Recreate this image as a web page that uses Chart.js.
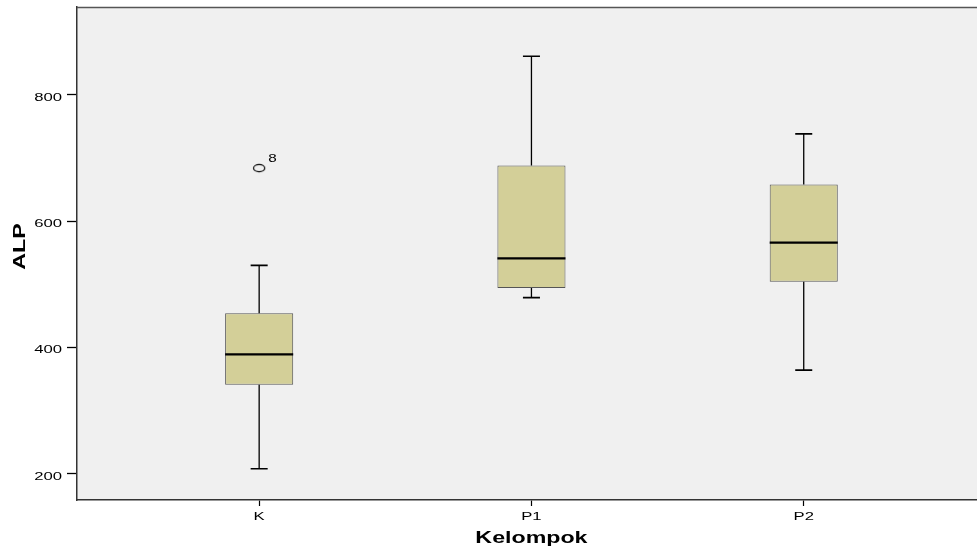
<!DOCTYPE html>
<html>
<head>
<meta charset="utf-8">
<script src="https://cdn.jsdelivr.net/npm/chart.js@4/dist/chart.umd.min.js"></script>
<style>
    html, body { margin: 0; padding: 0; background: #fff; overflow: hidden; }
    #wrap { width: 985px; height: 550px; position: relative; }
</style>
</head>
<body>
<div id="wrap"><canvas id="boxChart"></canvas></div>
<script>
// --- Data ---
const groups = ['K', 'P1', 'P2'];
const whiskerLow = [208, 479, 364];
const quartile1 = [341, 494, 504];
const medians = [389, 541, 566];
const quartile3 = [454, 688, 658];
const whiskerHigh = [530, 861, 738];
const outlierGroup = [0];
const outlierValues = [684];
const outlierLabels = ['8'];
const yTicks = [200, 400, 600, 800];

// SPSS text comes out wide, so text is stretched sideways
const TEXT_STRETCH = 1.45;
const FONT = '"Liberation Sans", Arial, sans-serif';

function wideText(ctx, text, x, y, font, align, rotate) {
    ctx.save();
    ctx.translate(x, y);
    if (rotate) ctx.rotate(rotate);
    ctx.scale(TEXT_STRETCH, 1);
    ctx.font = font;
    ctx.fillStyle = '#000';
    ctx.textAlign = align;
    ctx.textBaseline = 'alphabetic';
    ctx.fillText(text, 0, 0);
    ctx.restore();
}

// hollow ellipse used as the outlier marker
const ellipseImg = document.createElement('canvas');
ellipseImg.width = 16;
ellipseImg.height = 12;
(function () {
    const c = ellipseImg.getContext('2d');
    c.strokeStyle = '#000';
    c.lineWidth = 1.2;
    c.beginPath();
    c.ellipse(8, 6, 5.6, 3.6, 0, 0, Math.PI * 2);
    c.stroke();
})();

const boxPlugin = {
    id: 'boxPlot',
    beforeDraw(chart) {
        const { ctx, chartArea: a } = chart;
        ctx.save();
        ctx.fillStyle = '#fff';
        ctx.fillRect(0, 0, chart.width, chart.height);
        ctx.fillStyle = '#f0f0f0';
        ctx.fillRect(a.left, a.top, chart.width - a.left, a.bottom - a.top);
        ctx.restore();
    },
    afterDatasetsDraw(chart) {
        const ctx = chart.ctx;
        const y = chart.scales.y;
        const meta = chart.getDatasetMeta(0);
        ctx.save();
        ctx.strokeStyle = '#000';
        meta.data.forEach((bar, i) => {
            const x = bar.x;
            const half = bar.width / 2;
            const cap = bar.width / 8;
            // stems
            ctx.lineWidth = 1.3;
            ctx.beginPath();
            ctx.moveTo(x, y.getPixelForValue(quartile3[i]));
            ctx.lineTo(x, y.getPixelForValue(whiskerHigh[i]));
            ctx.moveTo(x, y.getPixelForValue(quartile1[i]));
            ctx.lineTo(x, y.getPixelForValue(whiskerLow[i]));
            ctx.stroke();
            // caps
            ctx.lineWidth = 1.7;
            ctx.beginPath();
            ctx.moveTo(x - cap, y.getPixelForValue(whiskerHigh[i]));
            ctx.lineTo(x + cap, y.getPixelForValue(whiskerHigh[i]));
            ctx.moveTo(x - cap, y.getPixelForValue(whiskerLow[i]));
            ctx.lineTo(x + cap, y.getPixelForValue(whiskerLow[i]));
            ctx.stroke();
            // median
            ctx.lineWidth = 2.2;
            ctx.beginPath();
            ctx.moveTo(x - half, y.getPixelForValue(medians[i]));
            ctx.lineTo(x + half, y.getPixelForValue(medians[i]));
            ctx.stroke();
        });
        ctx.restore();
    },
    afterDraw(chart) {
        const { ctx, chartArea: a } = chart;
        const x = chart.scales.x;
        const y = chart.scales.y;

        // top frame line
        ctx.save();
        ctx.strokeStyle = '#555';
        ctx.lineWidth = 1.5;
        ctx.beginPath();
        ctx.moveTo(a.left, a.top + 0.5);
        ctx.lineTo(chart.width, a.top + 0.5);
        ctx.stroke();
        ctx.restore();

        // tick labels
        y.ticks.forEach(t => {
            wideText(ctx, String(t.value), a.left - 15, y.getPixelForValue(t.value) + 6,
                '11.5px ' + FONT, 'right');
        });
        x.ticks.forEach(t => {
            wideText(ctx, groups[t.value], x.getPixelForValue(t.value), a.bottom + 20,
                '11.5px ' + FONT, 'center');
        });

        // axis titles
        wideText(ctx, 'Kelompok', x.getPixelForValue(1), a.bottom + 42.5, 'bold 16px ' + FONT, 'center');
        wideText(ctx, 'ALP', a.left - 52, (a.top + a.bottom) / 2 - 7, 'bold 16px ' + FONT, 'center', -Math.PI / 2);

        // outlier case numbers
        const om = chart.getDatasetMeta(1);
        om.data.forEach((p, k) => {
            wideText(ctx, outlierLabels[k], p.x + 9, p.y - 6, '10.5px ' + FONT, 'left');
        });
    }
};

const ctx = document.getElementById('boxChart').getContext('2d');
const boxChart = new Chart(ctx, {
    type: 'bar',
    data: {
        datasets: [{
            label: 'ALP',
            data: groups.map((g, i) => ({ x: i, y: [quartile1[i], quartile3[i]] })),
            backgroundColor: '#d3cf98',
            borderColor: '#555',
            borderWidth: 1,
            borderSkipped: false,
            barPercentage: 0.25,
            categoryPercentage: 1
        },
        {
            type: 'scatter',
            label: 'Outliers',
            data: outlierGroup.map((g, k) => ({ x: g, y: outlierValues[k] })),
            pointStyle: ellipseImg,
            pointRadius: 6
        }]
    },
    options: {
        responsive: true,
        maintainAspectRatio: false,
        animation: false,
        layout: { padding: { left: 67, top: 6, right: 0, bottom: 44 } },
        plugins: {
            legend: { display: false },
            tooltip: { enabled: false }
        },
        scales: {
            x: {
                type: 'linear',
                min: -0.669,
                max: 2.64,
                offset: false,
                afterBuildTicks: s => { s.ticks = groups.map((g, i) => ({ value: i })); },
                ticks: { display: false },
                grid: { display: true, drawOnChartArea: false, drawTicks: true, tickLength: 6, tickColor: '#000', tickWidth: 1.2, offset: false },
                border: { display: true, color: '#333', width: 1.5 }
            },
            y: {
                type: 'linear',
                min: 158.5,
                max: 939,
                afterBuildTicks: s => { s.ticks = yTicks.map(v => ({ value: v })); },
                ticks: { display: false },
                grid: { display: true, drawOnChartArea: false, drawTicks: true, tickLength: 10, tickColor: '#000', tickWidth: 1.3 },
                border: { display: true, color: '#333', width: 1.5 }
            }
        }
    },
    plugins: [boxPlugin]
});
</script>
</body>
</html>
